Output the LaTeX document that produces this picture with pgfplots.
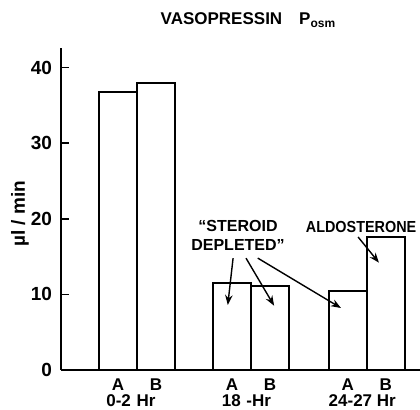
\documentclass[border=0pt]{standalone}
\usepackage{fontspec}
\setmainfont{Liberation Sans}
\usepackage{pgfplots}
\pgfplotsset{compat=1.18}
\usetikzlibrary{arrows.meta}
\begin{document}
\begin{tikzpicture}
\path[use as bounding box] (-30.5pt,-20pt) rectangle (179.5pt,185pt);
\begin{axis}[
  at={(0,0)}, anchor=origin,
  scale only axis, width=179.5pt, height=161pt,
  xmin=0, xmax=9.45, ymin=0, ymax=42.6,
  axis x line=bottom, axis y line=left,
  axis line style={-, line width=0.8pt},
  ytick={0,10,20,30,40},
  tick align=inside, major tick length=4pt,
  y tick style={line width=0.8pt, black},
  xtick={1.5,2.5,4.5,5.5,7.55,8.55},
  xticklabels={A,B,A,B,A,B},
  x tick style={draw=none},
  /pgf/number format/assume math mode=true,
  tick label style={font=\bfseries\fontsize{9.5}{10}\selectfont},
  xticklabel style={font=\bfseries\fontsize{8.5}{10}\selectfont, yshift=3pt},
  yticklabel style={xshift=-1pt},
  clip=false,
  ybar, bar width=1,
]
\addplot[fill=white, draw=black, line width=1pt] coordinates {
  (1.5,36.8) (2.5,38.0)
  (4.5,11.5) (5.5,11.1)
  (7.55,10.4) (8.55,17.6)
};
\begin{scope}[font=\bfseries\fontsize{8.5}{10}\selectfont]
\node at (axis cs:1.84,0) [yshift=-15.5pt] {0-2\,\,Hr};
\node at (axis cs:4.88,0) [yshift=-15.5pt] {18\,\,-Hr};
\node at (axis cs:7.93,0) [yshift=-15.5pt] {24-27 Hr};
\end{scope}
\begin{scope}[font=\bfseries\fontsize{8}{9.5}\selectfont]
\node[align=center] at (axis cs:4.66,17.8) {\textquotedblleft STEROID\\DEPLETED\textquotedblright};
\node at (axis cs:7.9,18.9) {\scalebox{0.9}[1]{ALDOSTERONE}};
\end{scope}
\draw[-{Stealth[length=5pt]}, line width=0.7pt] (axis cs:4.53,14.8) -- (axis cs:4.39,8.6);
\draw[-{Stealth[length=5pt]}, line width=0.7pt] (axis cs:4.87,14.8) -- (axis cs:5.61,8.5);
\draw[-{Stealth[length=5pt]}, line width=0.7pt] (axis cs:5.18,14.8) -- (axis cs:7.37,8.2);
\draw[-{Stealth[length=5pt]}, line width=0.7pt] (axis cs:7.82,17.6) -- (axis cs:8.37,14.2);
\end{axis}
\node[font=\bfseries\fontsize{8.5}{10}\selectfont] at (93.5pt,175pt) {VASOPRESSIN\quad P\raisebox{-0.4ex}{\fontsize{6}{7}\selectfont osm}};
\node[rotate=90, font=\bfseries\fontsize{9.5}{11}\selectfont] at (-20.5pt,78pt) {µl / min};
\end{tikzpicture}
\end{document}
